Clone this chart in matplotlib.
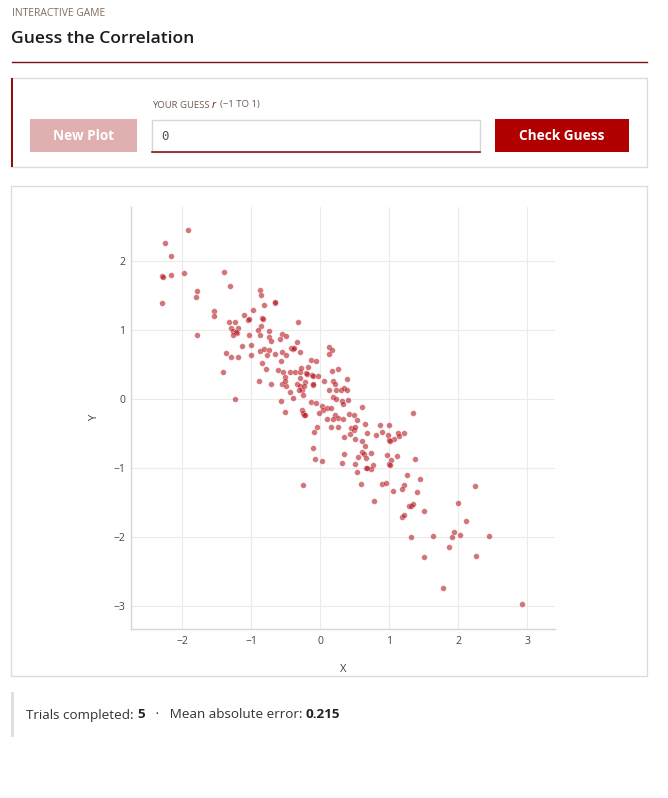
import matplotlib
matplotlib.use("Agg")
import matplotlib.pyplot as plt
from matplotlib.patches import Rectangle

plt.rcParams['font.family'] = ['Open Sans', 'DejaVu Sans']

# scatter data
x_vals = [
    -1.92, -2.25, -2.17, -2.30, -2.28, -2.16, -1.98, -1.40, -1.31, -1.78,
    -1.80, -2.29, -1.54, -1.54, -0.88, -0.86, -0.82, -0.66, -0.65, -0.98,
    -1.10, -1.05, -1.04, -0.84, -0.83, -1.32, -1.23, -1.29, -1.20, -1.27,
    -1.21, -1.22, -1.26, -1.03, -0.86, -0.90, -0.87, -0.74, -0.75, -0.71,
    -0.56, -0.50, -0.58, -1.79, -1.13, -1.00, -1.37, -1.29, -1.20, -1.00,
    -0.88, -0.82, -0.74, -0.77, -0.65, -0.55, -0.50,
    -0.33, -1.41, -1.24, -0.89, -0.85, -0.78, -0.71, -0.62, -0.57, -0.54,
    -0.51, -0.55, -0.49, -0.44, -0.37, -0.51, -0.44, -0.40, -0.57, -0.51,
    -0.34, -0.29, -0.29, -0.22, -0.29, -0.26, -0.31, -0.23, -0.28, -0.21,
    -0.20, -0.18, -0.13, -0.06, -0.12, -0.11, -0.04, -0.11, -0.10, -0.25,
    -0.14, -0.26, -0.25, -0.23, -0.22, -0.06, 0.02, 0.04, 0.10, 0.16,
    -0.02, 0.09, 0.21, 0.26, 0.19, 0.06, 0.18, 0.21, 0.26, 0.17,
    0.13, 0.23, 0.30, 0.38, 0.34, 0.38, 0.18, 0.23, 0.32, 0.33,
    0.40, 0.12, 0.17, 0.12, 0.41, 0.49, 0.61, 0.53, 0.33, 0.44,
    0.49, 0.51, 0.65, 0.35, 0.43, 0.50, 0.60, 0.65, 0.67, 0.15,
    0.25, -0.05, -0.09, -0.11, -0.42, -0.39, -0.38, -0.34, -0.29,
    1.35, 0.87, 1.00, 0.81, 0.90, 0.98, 1.13, 1.14, 1.22, 1.07,
    1.00, 1.01, 0.60, 0.63, 0.73, 0.66, 0.55, 0.96, 1.11, 1.03,
    1.37, 0.76, 0.73, 0.66, 0.67, 1.00, 1.01, 0.59, 0.90, 0.95,
    1.25, 1.45, 1.22, 1.19, 1.05, 1.40, 0.78, 1.28, 1.32, 1.34,
    1.51, 1.18, 1.21, 2.24, 2.00, 2.11, 1.31, 1.63, 1.91, 1.94,
    2.02, 2.44, 1.87, 1.51, 2.26, 1.78, 2.93,
    -0.08, 0.03, 0.35, 0.32, 0.50, 0.53, -0.25,
]
y_vals = [
    2.44, 2.25, 2.07, 1.78, 1.77, 1.80, 1.82, 1.83, 1.63, 1.56,
    1.47, 1.38, 1.27, 1.20, 1.57, 1.51, 1.36, 1.39, 1.40, 1.29,
    1.22, 1.14, 1.15, 1.17, 1.16, 1.11, 1.11, 1.02, 1.03, 0.98,
    0.95, 0.96, 0.92, 0.92, 1.05, 0.99, 0.93, 0.98, 0.89, 0.83,
    0.94, 0.91, 0.86, 0.92, 0.76, 0.78, 0.66, 0.60, 0.61, 0.64,
    0.69, 0.72, 0.70, 0.63, 0.65, 0.68, 0.63,
    1.11, 0.38, 0.00, 0.26, 0.52, 0.43, 0.22, 0.42, 0.54, 0.38,
    0.32, 0.21, 0.19, 0.38, 0.39, 0.26, 0.10, 0.01, -0.04, -0.19,
    0.22, 0.38, 0.30, 0.24, 0.18, 0.13, 0.13, 0.19, 0.44, 0.37,
    0.36, 0.46, 0.56, 0.55, 0.34, 0.33, 0.33, 0.20, 0.21, 0.05,
    -0.05, -0.16, -0.21, -0.24, -0.23, -0.06, -0.10, -0.16, -0.13, -0.13,
    -0.21, -0.29, -0.23, -0.28, -0.30, 0.26, 0.25, 0.22, 0.43, 0.40,
    0.12, 0.13, 0.12, 0.28, 0.16, 0.13, 0.02, 0.00, -0.04, -0.07,
    -0.02, 0.75, 0.70, 0.65, -0.22, -0.23, -0.12, -0.31, -0.30, -0.43,
    -0.46, -0.41, -0.37, -0.56, -0.51, -0.59, -0.62, -0.68, -0.50, -0.41,
    -0.41, -0.41, -0.48, -0.71, 0.74, 0.72, 0.73, 0.82, 0.68,
    -0.21, -0.38, -0.38, -0.52, -0.48, -0.53, -0.50, -0.54, -0.50, -0.58,
    -0.60, -0.61, -0.77, -0.80, -0.79, -0.86, -0.85, -0.81, -0.83, -0.89,
    -0.87, -0.96, -1.02, -1.00, -1.01, -0.95, -0.96, -1.23, -1.23, -1.22,
    -1.10, -1.16, -1.25, -1.31, -1.34, -1.35, -1.48, -1.55, -1.55, -1.52,
    -1.63, -1.71, -1.69, -1.26, -1.51, -1.77, -2.01, -1.99, -2.00, -1.93,
    -1.98, -1.99, -2.15, -2.30, -2.28, -2.75, -2.98,
    -0.87, -0.91, -0.80, -0.93, -0.94, -1.06, -1.25,
]
x_ticks = [-2, -1, 0, 1, 2, 3]
y_ticks = [-3, -2, -1, 0, 1, 2]
trials = 5
mae = 0.215

W, H = 668, 798
fig = plt.figure(figsize=(W / 100, H / 100), dpi=100)
fig.patch.set_facecolor('white')

# page layer in pixel coordinates
bg = fig.add_axes([0, 0, 1, 1])
bg.set_xlim(0, W)
bg.set_ylim(H, 0)
bg.axis('off')

bg.text(12, 14, "INTERACTIVE GAME", fontsize=7.4, color='#7d6b5d',
        va='center', ha='left')
bg.text(11, 39, "Guess the Correlation", fontsize=12.6, fontweight='semibold',
        color='#1c1c1c', va='center', ha='left')
bg.plot([12, 647], [62, 62], color='#7a0f0f', lw=1)

# control panel
bg.add_patch(Rectangle((11, 78), 636, 89, fill=False, ec='#dcdcdc', lw=1))
bg.add_patch(Rectangle((11, 78), 2, 89, color='#8b1010', lw=0))

r = fig.canvas.get_renderer()
t1 = bg.text(152, 105, "YOUR GUESS ", fontsize=6.8, color='#6b5a50',
             va='center', ha='left')
x1 = t1.get_window_extent(r).x1
t2 = bg.text(x1, 105, "r", fontsize=7.5, style='italic', color='#8b1010',
             va='center', ha='left')
x2 = t2.get_window_extent(r).x1
bg.text(x2 + 4, 105, "(\u22121 TO 1)", fontsize=6.8, color='#6b5a50',
        va='center', ha='left')

bg.add_patch(Rectangle((30, 119), 107, 33, color='#e0afaf', lw=0))
bg.text(83.5, 135.5, "New Plot", fontsize=9.8, fontweight='bold',
        color='white', ha='center', va='center')

bg.add_patch(Rectangle((152, 120), 328, 32, fc='white', ec='#d6d6d6', lw=1))
bg.plot([152, 480], [151.5, 151.5], color='#8b1a1a', lw=1.2)
bg.text(161, 136, "0", fontsize=9, family='DejaVu Sans Mono', color='#555555',
        ha='left', va='center')

bg.add_patch(Rectangle((495, 119), 134, 33, color='#b00000', lw=0))
bg.text(562, 135.5, "Check Guess", fontsize=9.8, fontweight='bold',
        color='white', ha='center', va='center')

# chart card
bg.add_patch(Rectangle((11, 186), 636, 490, fill=False, ec='#dcdcdc', lw=1))

# footer
bg.plot([12, 12], [693, 735], color='#dddddd', lw=2)
f1 = bg.text(26, 715, "Trials completed: ", fontsize=9.7, color='#333333',
             ha='left', va='center')
p = f1.get_window_extent(r).x1
f2 = bg.text(p, 715, str(trials), fontsize=9.7, fontweight='bold',
             color='#222222', ha='left', va='center')
p = f2.get_window_extent(r).x1
f3 = bg.text(p, 715, "   \u00b7   Mean absolute error: ", fontsize=9.7,
             color='#333333', ha='left', va='center')
p = f3.get_window_extent(r).x1
bg.text(p, 715, f"{mae:.3f}", fontsize=9.7, fontweight='bold',
        color='#222222', ha='left', va='center')

# scatter axes: x 131..555 px, y 207..629 px, 69 px per unit
ax = fig.add_axes([131 / W, 1 - 629 / H, (555 - 131) / W, (629 - 207) / H])
ax.scatter(x_vals, y_vals, s=17, color='#b5121b', alpha=0.58,
           edgecolors='white', linewidths=0.3, zorder=3)
ax.set_xlim((131 - 320.3) / 69, (555 - 320.3) / 69)
ax.set_ylim((398.7 - 629) / 69, (398.7 - 207) / 69)
ax.set_xticks(x_ticks)
ax.set_yticks(y_ticks)
ax.grid(True, color='#ebebeb', lw=0.8)
ax.set_axisbelow(True)
for key, spine in ax.spines.items():
    spine.set_visible(key in ('left', 'bottom'))
    spine.set_color('#d6d6d6')
    spine.set_linewidth(1)
ax.tick_params(length=0, labelsize=7.5, labelcolor='#444444')
ax.tick_params(axis='x', pad=5)
ax.tick_params(axis='y', pad=4)
ax.set_xlabel("X", fontsize=8, color='#444444', labelpad=12)
ax.set_ylabel("Y", fontsize=8, color='#444444', labelpad=10)

fig.savefig("out.png", dpi=100)
